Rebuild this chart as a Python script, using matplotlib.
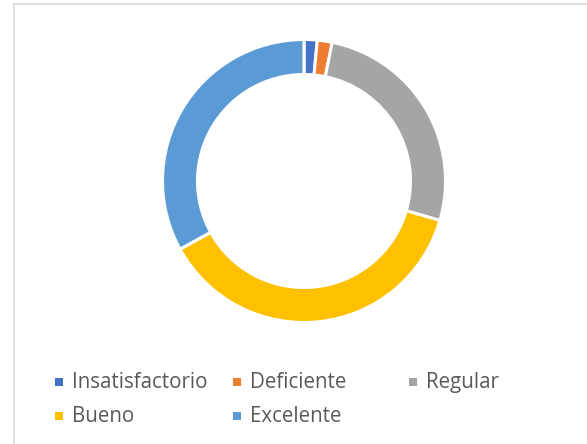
import matplotlib
matplotlib.use('Agg')
import matplotlib.pyplot as plt
from matplotlib.patches import Rectangle
from matplotlib.lines import Line2D

labels = ['Insatisfactorio', 'Deficiente', 'Regular', 'Bueno', 'Excelente']
values = [1.5, 1.7, 26.3, 37.5, 33.0]
colors = ['#4472C4', '#ED7D31', '#A5A5A5', '#FFC000', '#5B9BD5']

W, H = 587, 444
fig = plt.figure(figsize=(W / 100, H / 100), dpi=100)
fig.patch.set_facecolor('white')

# donut, centre (304, 181) px, outer radius ~141 px
r = 141.5
cx, cy = 304, 181
ax = fig.add_axes([(cx - r) / W, (H - cy - r) / H, 2 * r / W, 2 * r / H])
ax.pie(values, colors=colors, startangle=90, counterclock=False, radius=1,
       wedgeprops=dict(width=35 / r, edgecolor='white', linewidth=2.2))
ax.set_xlim(-1, 1)
ax.set_ylim(-1, 1)
ax.set_aspect('equal')
ax.axis('off')

# legend laid out like the Excel one: 3 columns, 2 rows
col_x = [55, 233, 409]
row_y = [382, 416]
for i, (lab, col) in enumerate(zip(labels, colors)):
    x = col_x[i % 3]
    y = row_y[i // 3]
    fig.patches.append(Rectangle(((x) / W, (H - y - 4) / H), 8 / W, 8 / H,
                                 transform=fig.transFigure, facecolor=col,
                                 edgecolor='none'))
    fig.text((x + 17) / W, (H - y) / H, lab, fontsize=14.8, family='Open Sans',
             color='#595959', va='center', ha='left')

# chart border (top and left edges visible)
fig.add_artist(Line2D([13.5 / W, 1], [1 - 4.5 / H, 1 - 4.5 / H],
                      transform=fig.transFigure, color='#D9D9D9', lw=1.2))
fig.add_artist(Line2D([13.5 / W, 13.5 / W], [0, 1 - 4.5 / H],
                      transform=fig.transFigure, color='#D9D9D9', lw=1.2))

fig.savefig('out.png', dpi=100, facecolor='white')
